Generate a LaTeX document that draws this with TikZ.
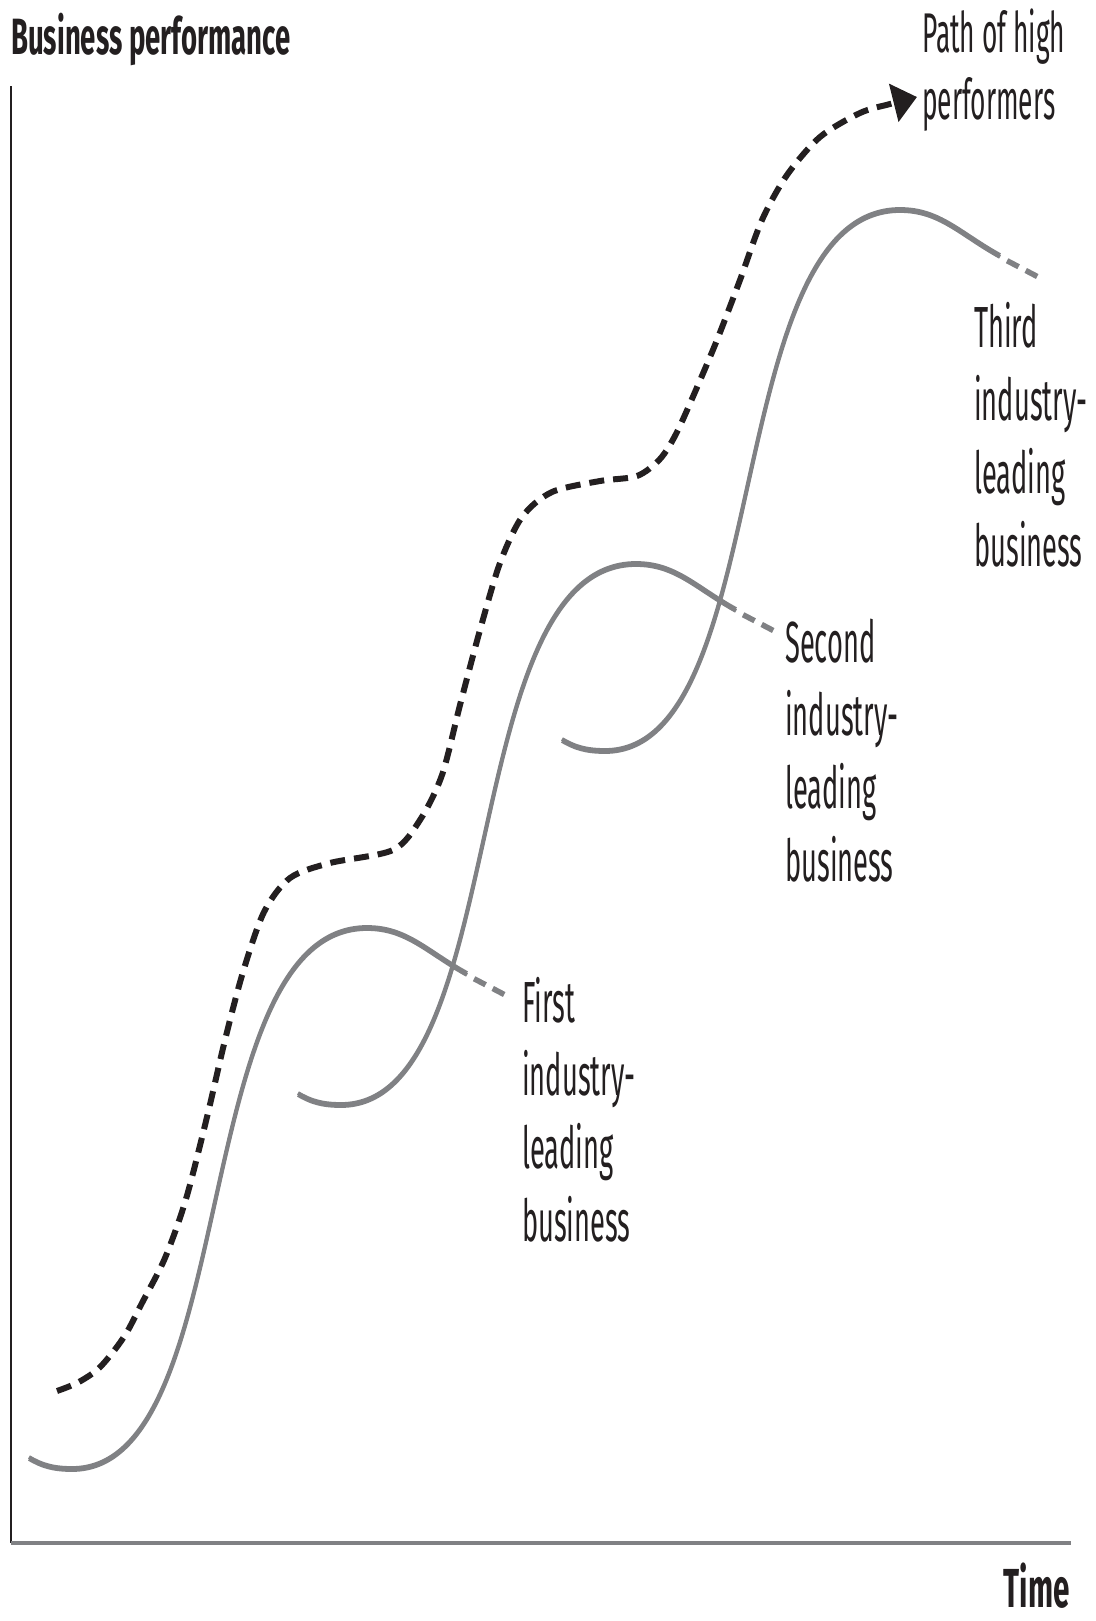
\documentclass[tikz,border=0pt]{standalone}
\usepackage{fontspec}
\newfontfamily\chartfont[FakeStretch=0.47]{Fira Sans}
\newfontfamily\titlefont[FakeStretch=0.54]{Fira Sans}
\usepackage{tikz}
\usetikzlibrary{arrows.meta}
\definecolor{curvegray}{RGB}{128,129,132}
\definecolor{inkblack}{RGB}{35,31,32}

\begin{document}
\begin{tikzpicture}[x=1pt, y=-1pt,
        business/.style={draw=curvegray, line width=3.8pt,
            preaction={draw=curvegray, line width=3.8pt, transform canvas={yshift=2pt}}},
        fading/.style={draw=curvegray, line width=5.5pt, dash pattern=on 13pt off 8pt, dash phase=13pt},
        highpath/.style={draw=inkblack, line width=6pt, dash pattern=on 15pt off 9pt},
        curvelabel/.style={anchor=base west, inner sep=0pt, align=left, text=inkblack,
            font=\chartfont\fontsize{58}{73}\selectfont},
        axistitle/.style={inner sep=0pt, text=inkblack, font=\titlefont\bfseries\fontsize{51}{60}\selectfont}
    ]
    \useasboundingbox (0,0) rectangle (1095,1621);

    % Axes
    \coordinate (origin) at (11,1543);
    \coordinate (ytop) at (11,86);
    \coordinate (xend) at (1071,1543);
    \draw[inkblack, line width=2pt] (origin) -- (ytop);
    \draw[curvegray, line width=4pt] (origin) -- (xend);

    % Axis titles
    \node[axistitle, anchor=base west] at (11,55) (ylabel) {Business performance};
    \node[axistitle, anchor=base east, font=\titlefont\bfseries\fontsize{55}{60}\selectfont] at (1070,1607) (xlabel) {Time};

    % First business
    \draw[business] (29,1459) .. controls (41,1466) and (52,1470) .. (72,1470)
        .. controls (242,1470) and (187,929) .. (367,929)
        .. controls (407,929) and (427,953) .. (467,975);
    \draw[fading] (467,975) -- (509,997);

    % Second business
    \draw[business] (298,1095) .. controls (310,1102) and (321,1106) .. (341,1106)
        .. controls (511,1106) and (456,565) .. (636,565)
        .. controls (676,565) and (696,589) .. (736,611);
    \draw[fading] (736,611) -- (778,633);

    % Third business
    \draw[business] (562,741) .. controls (574,748) and (585,752) .. (605,752)
        .. controls (775,752) and (720,211) .. (900,211)
        .. controls (940,211) and (960,235) .. (1000,257);
    \draw[fading] (1000,257) -- (1042,279);

    % Path of high performers
    \draw[highpath, -{Triangle[length=24pt, width=38pt]}] plot[smooth, tension=0.5] coordinates {
        (57,1391) (77,1383) (97,1370) (113,1352) (127,1332) (142,1303) (165,1258)
        (186,1199) (207,1117) (225,1040) (243,972) (264,912) (290,878) (330,863)
        (393,850) (420,820) (442,775) (460,705) (480,630) (500,563) (522,517)
        (552,492) (600,481) (637,476) (660,459) (676,434) (695,392) (717,340)
        (740,280) (762,220) (787,175) (820,137) (860,113) (890,104) (917,97)};

    % Labels (base is the last line)
    \node[curvelabel, font=\chartfont\fontsize{56}{67}\selectfont] at (922,120) (pathlabel) {Path of high\\performers};
    \node[curvelabel] at (522,1241) (firstlabel) {First\\industry-\\leading\\business};
    \node[curvelabel] at (785,881) (secondlabel) {Second\\industry-\\leading\\business};
    \node[curvelabel] at (974,566) (thirdlabel) {Third\\industry-\\leading\\business};

\end{tikzpicture}
\end{document}
